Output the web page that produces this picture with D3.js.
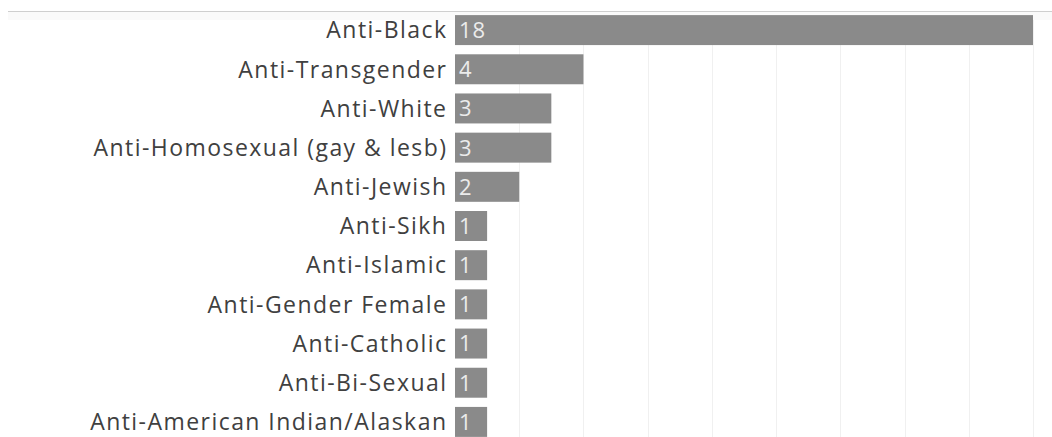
<!DOCTYPE html>
<html>
<head>
<meta charset="utf-8">
<script src="https://cdn.jsdelivr.net/npm/d3@7"></script>
<style>
  html, body { margin: 0; padding: 0; background: #fff; }
  svg { display: block; }
</style>
</head>
<body>
<svg id="chart" width="1052" height="437"></svg>
<script>
// Incident counts by bias motivation
const categories = [
  "Anti-Black",
  "Anti-Transgender",
  "Anti-White",
  "Anti-Homosexual (gay & lesb)",
  "Anti-Jewish",
  "Anti-Sikh",
  "Anti-Islamic",
  "Anti-Gender Female",
  "Anti-Catholic",
  "Anti-Bi-Sexual",
  "Anti-American Indian/Alaskan"
];
const counts = [18, 4, 3, 3, 2, 1, 1, 1, 1, 1, 1];
const gridTicks = [2, 4, 6, 8, 10, 12, 14, 16, 18];

const W = 1052, H = 437;
const plotLeft = 455, plotRight = 1033;
const svg = d3.select("#chart");
const font = "'Open Sans', 'Noto Sans', sans-serif";
const labelSpacing = 1.45;

const x = d3.scaleLinear().domain([0, 18]).range([plotLeft, plotRight]);
const y = d3.scaleBand().domain(categories).range([10.5, 441.5])
  .paddingInner(0.235).paddingOuter(0.1175);

// vertical gridlines
svg.append("g").selectAll("line").data(gridTicks).join("line")
  .attr("x1", d => Math.round(x(d)) + 0.5).attr("x2", d => Math.round(x(d)) + 0.5)
  .attr("y1", 12).attr("y2", H)
  .attr("stroke", "#f0f0f0").attr("stroke-width", 1);

// top rule
svg.append("line").attr("x1", 8).attr("x2", W).attr("y1", 11.5).attr("y2", 11.5)
  .attr("stroke", "#cfcfcf").attr("stroke-width", 1);
svg.append("rect").attr("x", 8).attr("y", 12).attr("width", W - 8).attr("height", 8)
  .attr("fill", "#fafafa");

// bars
svg.append("g").selectAll("rect").data(categories).join("rect")
  .attr("x", x(0))
  .attr("y", d => y(d))
  .attr("width", (d, i) => x(counts[i]) - x(0))
  .attr("height", y.bandwidth())
  .attr("fill", "#8a8a8a");

// value labels inside the bars
svg.append("g").selectAll("text").data(categories).join("text")
  .attr("x", x(0) + 4)
  .attr("y", d => y(d) + y.bandwidth() / 2)
  .attr("dy", "0.36em")
  .attr("fill", "#ececec")
  .style("font", `22px ${font}`)
  .style("letter-spacing", "1px")
  .text((d, i) => counts[i]);

// category labels
svg.append("g").selectAll("text").data(categories).join("text")
  .attr("x", plotLeft - 9 + labelSpacing)
  .attr("y", d => y(d) + y.bandwidth() / 2)
  .attr("dy", "0.36em")
  .attr("text-anchor", "end")
  .attr("fill", "#404040")
  .style("font", `23px ${font}`)
  .style("letter-spacing", `${labelSpacing}px`)
  .text(d => d);
</script>
</body>
</html>
